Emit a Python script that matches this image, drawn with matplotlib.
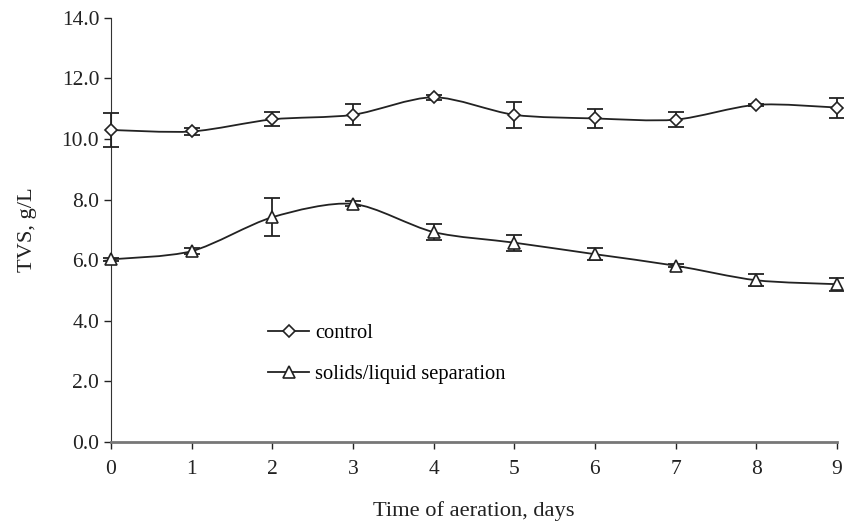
import numpy as np
import matplotlib.pyplot as plt
from matplotlib.path import Path
from matplotlib.patches import PathPatch

plt.rcParams['font.family'] = ['Liberation Serif', 'DejaVu Serif']

days = [0, 1, 2, 3, 4, 5, 6, 7, 8, 9]
control = [10.3, 10.25, 10.65, 10.8, 11.38, 10.8, 10.68, 10.64, 11.13, 11.04]
control_err = [0.55, 0.1, 0.23, 0.35, 0.08, 0.42, 0.3, 0.25, 0.04, 0.33]
separation = [6.03, 6.3, 7.42, 7.86, 6.93, 6.58, 6.2, 5.82, 5.34, 5.21]
separation_err = [0.04, 0.1, 0.63, 0.08, 0.25, 0.26, 0.2, 0.05, 0.19, 0.22]


def smooth_path(x, y):
    # Catmull-Rom -> cubic bezier, like Excel "smoothed line"
    x = np.asarray(x, float)
    y = np.asarray(y, float)
    verts = [(x[0], y[0])]
    codes = [Path.MOVETO]
    n = len(x)
    for i in range(n - 1):
        x0, y0 = (x[i - 1], y[i - 1]) if i > 0 else (x[i], y[i])
        x3, y3 = (x[i + 2], y[i + 2]) if i + 2 < n else (x[i + 1], y[i + 1])
        c1 = (x[i] + (x[i + 1] - x0) / 7, y[i] + (y[i + 1] - y0) / 7)
        c2 = (x[i + 1] - (x3 - x[i]) / 7, y[i + 1] - (y3 - y[i]) / 7)
        verts += [c1, c2, (x[i + 1], y[i + 1])]
        codes += [Path.CURVE4] * 3
    return Path(verts, codes)


fig = plt.figure(figsize=(8.44, 5.25), dpi=100)
ax = fig.add_axes([0.1315, 0.158, 0.86, 0.808])

for yv, ev, mk, ms, lab in [(control, control_err, 'D', 6, 'control'),
                            (separation, separation_err, '^', 8, 'solids/liquid separation')]:
    ax.add_patch(PathPatch(smooth_path(days, yv), fill=False, edgecolor='#222222', lw=1.3,
                           zorder=2, clip_on=False))
    eb = ax.errorbar(days, yv, yerr=ev, fmt='none', ecolor='#222222', elinewidth=1.3,
                     capsize=6, capthick=1.3, zorder=3)
    for art in eb.lines[1] + eb.lines[2]:
        art.set_clip_on(False)
    ax.plot(days, yv, linestyle='-', color='#222222', lw=0, marker=mk, ms=ms,
            mfc='white', mec='#222222', mew=1.2, zorder=4, clip_on=False)
    # legend handle
    ax.plot([], [], linestyle='-', color='#222222', lw=1.3, marker=mk, ms=ms,
            mfc='white', mec='#222222', mew=1.2, label=lab)

ax.set_xlim(0, 9)
ax.set_ylim(0, 14)
ax.set_xticks(days)
ax.set_yticks(np.arange(0, 14.1, 2))
ax.set_yticklabels([f'{v:.1f}' for v in np.arange(0, 14.1, 2)])
ax.tick_params(axis='both', labelsize=15.5, direction='out', length=5, width=1, colors='#222222')
ax.tick_params(axis='x', pad=8)
ax.spines['top'].set_visible(False)
ax.spines['right'].set_visible(False)
ax.spines['left'].set_color('#333333')
ax.spines['bottom'].set_color('#777777')
ax.spines['bottom'].set_linewidth(2)

ax.set_xlabel('Time of aeration, days', fontsize=16.2, labelpad=16, color='#222222')
ax.set_ylabel('TVS, g/L', fontsize=16.2, labelpad=18, color='#222222')

ax.legend(loc='upper left', bbox_to_anchor=(0.205, 0.298), frameon=False, fontsize=14.8,
          handlelength=2.0, handletextpad=0.3, labelspacing=1.05, borderaxespad=0)

fig.savefig('out.png', dpi=100)
